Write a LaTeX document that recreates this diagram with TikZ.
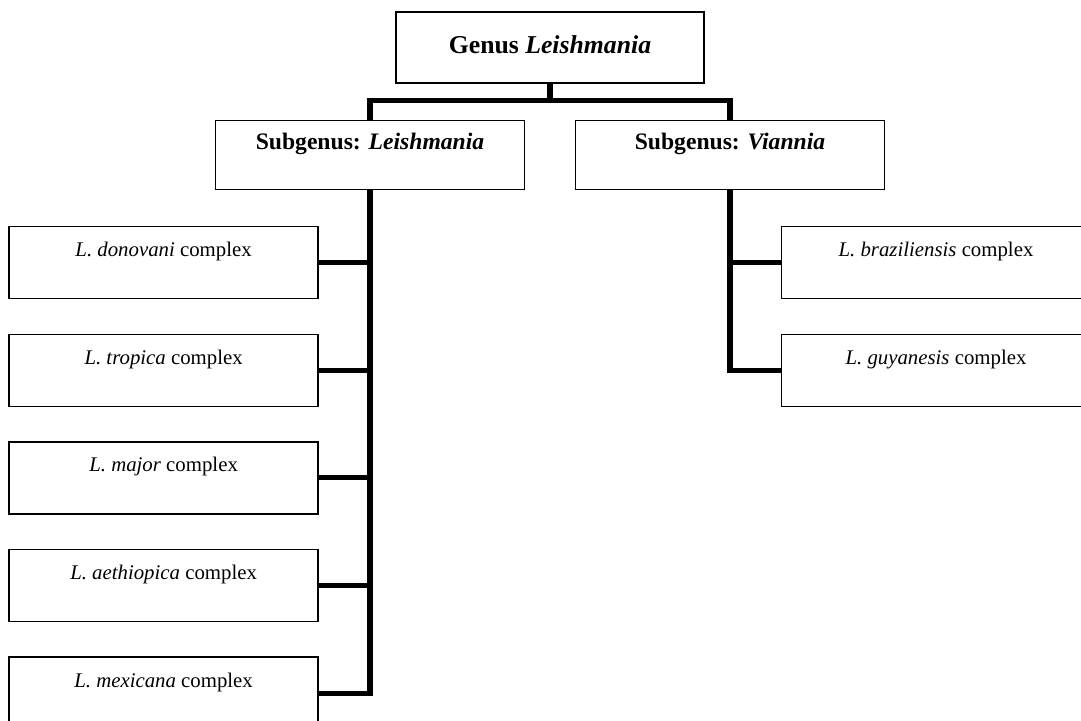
\documentclass[tikz,border=0pt]{standalone}
\usepackage{fontspec}
\setmainfont{Liberation Serif}
\usepackage{tikz}
\usetikzlibrary{positioning}
\tikzstyle{genusbox} = [rectangle, draw=black, line width=1pt, minimum width=7.7cm, inner ysep=0pt, text height=1.025cm, text depth=0.75cm, font=\fontsize{18.3}{21}\selectfont\bfseries]
\tikzstyle{subbox} = [rectangle, draw=black, line width=1pt, minimum width=7.725cm, inner ysep=0pt, text height=0.725cm, text depth=1.0cm, font=\fontsize{16.8}{20}\selectfont\bfseries]
\tikzstyle{leafbox} = [rectangle, draw=black, line width=1pt, minimum width=7.725cm, inner ysep=0pt, text height=0.75cm, text depth=1.05cm, font=\fontsize{14.8}{17}\selectfont]
\tikzstyle{link} = [line width=3.6pt]

\begin{document}
\begin{tikzpicture}[node distance=2.69cm]
		\useasboundingbox (-13.75,1.1875) rectangle (13.275,-16.8125);
		% boxes
		\node (genus) [genusbox] {Genus \textit{Leishmania}};
		\node (subL) [subbox, below of=genus, xshift=-4.5cm] {Subgenus: \textit{Leishmania}};
		\node (subV) [subbox, below of=genus, xshift=4.5cm] {Subgenus: \textit{Viannia}};
		
		\node (donovani) [leafbox, below of=subL, xshift=-5.16cm] {\textit{L. donovani} complex};
		\node (tropica) [leafbox, below of=donovani] {\textit{L. tropica} complex};
		\node (major) [leafbox, below of=tropica] {\textit{L. major} complex};
		\node (aethiopica) [leafbox, below of=major] {\textit{L. aethiopica} complex};
		\node (mexicana) [leafbox, below of=aethiopica] {\textit{L. mexicana} complex};
		
		\node (braziliensis) [leafbox, below of=subV, xshift=5.15cm] {\textit{L. braziliensis} complex};
		\node (guyanesis) [leafbox, below of=braziliensis] {\textit{L. guyanesis} complex};
		
		% links
		\draw [link](genus.south) -- ++(0,-0.425) -| (subL.north);
		\draw [link](genus.south) -- ++(0,-0.425) -| (subV.north);
		\draw [link](subL.south) |- (donovani.east);
		\draw [link](subL.south) |- (tropica.east);
		\draw [link](subL.south) |- (major.east);
		\draw [link](subL.south) |- (aethiopica.east);
		\draw [link](subL.south) |- (mexicana.east);
		\draw [link](subV.south) |- (braziliensis.west);
		\draw [link](subV.south) |- (guyanesis.west);
		
	\end{tikzpicture}
\end{document}
